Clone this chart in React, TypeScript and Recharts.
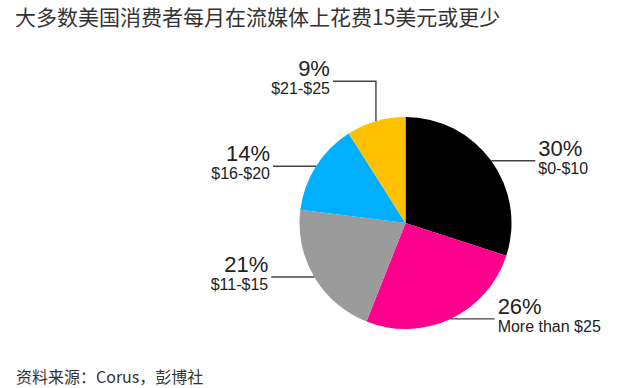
import React from 'react';
import { PieChart, Pie, Cell } from 'recharts';

const categories = ['$0-$10', 'More than $25', '$11-$15', '$16-$20', '$21-$25'];
const shares = [30, 26, 21, 14, 9];
const colors = ['#000000', '#ff008c', '#9b9b9b', '#00b0ff', '#ffc000'];

const data = categories.map((name, i) => ({ name, value: shares[i] }));

const RADIAN = Math.PI / 180;
const cjkFont = '"Noto Sans CJK SC", "Noto Sans", sans-serif';
const latinFont = '"Liberation Sans", Arial, sans-serif';

// leader line + two-line label, direction picked from the slice angle
const renderLabel = (props: any) => {
  const { cx, cy, midAngle, outerRadius, value, name } = props;
  const cos = Math.cos(-midAngle * RADIAN);
  const sin = Math.sin(-midAngle * RADIAN);
  const x0 = cx + outerRadius * cos;
  const y0 = cy + outerRadius * sin;
  const right = cos >= 0;
  const nearTop = sin < -0.9;

  let points: string;
  let tx: number;
  let ty: number;
  if (nearTop) {
    const yTop = y0 - 40;
    points = `${x0},${y0} ${x0},${yTop} ${x0 - 43},${yTop}`;
    tx = x0 - 46;
    ty = yTop;
  } else {
    const x1 = right ? x0 + 44 : x0 - 43;
    points = `${x0},${y0} ${x1},${y0}`;
    tx = right ? x1 + 3 : x1 - 3;
    ty = y0;
  }
  const anchor = right && !nearTop ? 'start' : 'end';

  return (
    <g>
      <polyline points={points} fill="none" stroke="#444" strokeWidth={1.4} />
      <text x={tx} y={ty - 5} textAnchor={anchor} fontSize={22} fill="#222" fontFamily={latinFont}>
        {`${value}%`}
      </text>
      <text x={tx} y={ty + 13} textAnchor={anchor} fontSize={16} fill="#222" fontFamily={latinFont}>
        {name}
      </text>
    </g>
  );
};

export default function App() {
  return (
    <div style={{ position: 'absolute', left: 0, top: 0, width: 627, height: 388, background: '#fff', overflow: 'hidden' }}>
      <div
        style={{
          position: 'absolute',
          left: 15,
          top: 1,
          fontSize: 21,
          lineHeight: '30px',
          color: '#333',
          fontFamily: cjkFont,
          whiteSpace: 'nowrap',
        }}
      >
        大多数美国消费者每月在流媒体上花费15美元或更少
      </div>
      <PieChart
        width={627}
        height={388}
        margin={{ top: 0, right: 0, bottom: 0, left: 0 }}
        style={{ position: 'absolute', left: 0, top: 0 }}
      >
        <Pie
          data={data}
          dataKey="value"
          nameKey="name"
          cx={405.5}
          cy={223}
          outerRadius={106}
          startAngle={90}
          endAngle={-270}
          stroke="none"
          label={renderLabel}
          labelLine={false}
          isAnimationActive={false}
        >
          {data.map((d, i) => (
            <Cell key={d.name} fill={colors[i]} />
          ))}
        </Pie>
      </PieChart>
      <div
        style={{
          position: 'absolute',
          left: 16,
          top: 366,
          fontSize: 16,
          lineHeight: '20px',
          color: '#333',
          fontFamily: cjkFont,
          whiteSpace: 'nowrap',
        }}
      >
        资料来源：Corus，彭博社
      </div>
    </div>
  );
}
